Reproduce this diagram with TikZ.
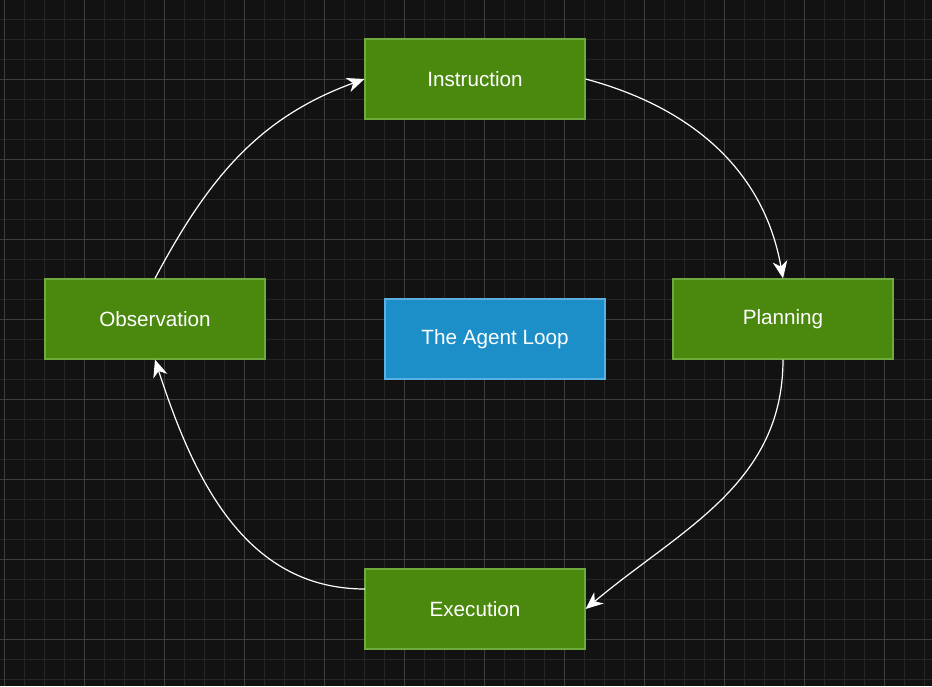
\documentclass[tikz,border=0pt]{standalone}
\usepackage{fontspec}
\setmainfont{Liberation Sans}
\usetikzlibrary{arrows.meta}
\definecolor{bgdark}{RGB}{18,18,18}
\definecolor{gridminor}{RGB}{38,38,38}
\definecolor{gridmajor}{RGB}{62,62,62}
\definecolor{stepfill}{RGB}{74,137,14}
\definecolor{stepdraw}{RGB}{110,170,60}
\definecolor{loopfill}{RGB}{28,143,201}
\definecolor{loopdraw}{RGB}{90,176,226}
\tikzset{
  step box/.style={draw=stepdraw,fill=stepfill,line width=0.9pt,minimum width=165pt,minimum height=60pt,text=white,font=\fontsize{15.5pt}{18pt}\selectfont},
  loop box/.style={step box,draw=loopdraw,fill=loopfill},
  flow/.style={draw=white,line width=0.9pt,-{Stealth[length=13pt,width=11pt,inset=4pt]}}
}
\begin{document}
\begin{tikzpicture}[x=0.75pt,y=0.75pt,yscale=-1,xscale=1]
%background and grid
\fill[bgdark] (0,0) rectangle (932,686);
\useasboundingbox (0,0) rectangle (932,686);
\foreach \gx in {4,24,...,932} \draw[gridminor,line width=0.5pt] (\gx,0) -- (\gx,686);
\foreach \gy in {19,39,...,686} \draw[gridminor,line width=0.5pt] (0,\gy) -- (932,\gy);
\foreach \gx in {4,84,...,932} \draw[gridmajor,line width=0.5pt] (\gx,0) -- (\gx,686);
\foreach \gy in {79,159,...,686} \draw[gridmajor,line width=0.5pt] (0,\gy) -- (932,\gy);

%steps
\node[step box] (instr) at (475,79) {Instruction};
\node[step box] (plan) at (783,319) {Planning};
\node[step box] (exec) at (475,609) {Execution};
\node[step box] (obs) at (155,319) {Observation};
\node[loop box] (loop) at (495,339) {The Agent Loop};
\coordinate (exec-out) at (365,589);

%loop arrows
\draw[flow] (instr.east) to[out=15,in=-100] (plan.north);
\draw[flow] (plan.south) to[out=90,in=-40] (exec.east);
\draw[flow] (exec-out) to[out=180,in=72] (obs.south);
\draw[flow] (obs.north) to[out=-62,in=160] (instr.west);
\end{tikzpicture}
\end{document}
